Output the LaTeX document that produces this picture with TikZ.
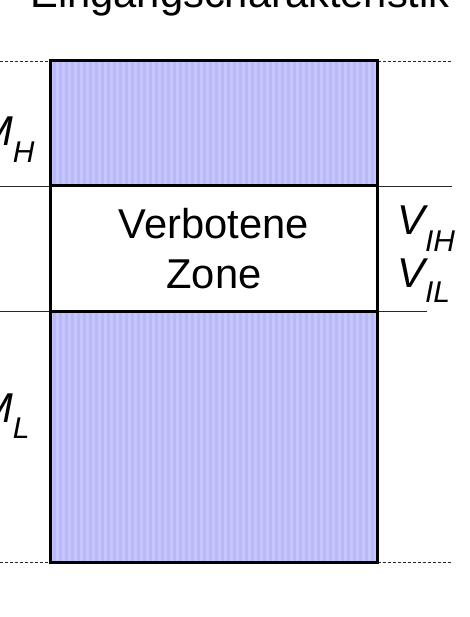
\documentclass[tikz,border=0pt]{standalone}
\usepackage{fontspec}
\setmainfont{Liberation Sans}
\usetikzlibrary{positioning}
\definecolor{zonefill}{RGB}{198,198,255}
\definecolor{zonestripe}{RGB}{184,184,250}
\definecolor{rulegray}{RGB}{40,40,40}

\newcommand{\lbl}[3]{\itshape #1\raisebox{-#3pt}{\fontsize{30}{30}\selectfont #2}}

\begin{document}
\begin{tikzpicture}[
  x=1pt, y=-1pt,
  font=\fontsize{41.7}{50}\selectfont,
  zone/.style={rectangle, fill=zonefill, inner sep=0pt, outer sep=0pt,
    minimum width=327pt},
  forbidden/.style={rectangle, fill=white, inner sep=0pt, outer sep=0pt,
    minimum width=327pt, minimum height=125pt, align=center},
  frame/.style={line width=3pt, black},
  level/.style={line width=0.8pt, rulegray},
  limit/.style={level, dash pattern=on 3pt off 2pt},
  volt/.style={anchor=base west, inner sep=0pt},
]
\useasboundingbox (0,0) rectangle (470,617);
\clip (0,0) rectangle (470,617);

% title, cut by the top edge
\node[volt] (title) at (30,8) {Eingangscharakteristik};

% the three zones of the input level
\node[zone, minimum height=125pt, anchor=north west] (high) at (50.5,61) {};
\node[forbidden, below=0pt of high] (mid) {Verbotene\\Zone};
\node[zone, minimum height=251pt, below=0pt of mid] (low) {};

% stripes in the valid zones
\foreach \z in {high, low}
  \foreach \s in {2,8,...,320}
    \fill[zonestripe] ([xshift=\s pt]\z.north west) rectangle ([xshift=\s pt+3pt]\z.south west);

% level lines left and right
\coordinate (lt) at (0,61);   \coordinate (rt) at (452,61);
\coordinate (lh) at (0,186);  \coordinate (rh) at (452,186);
\coordinate (ll) at (0,311);  \coordinate (rl) at (427,311);
\coordinate (lb) at (0,562);  \coordinate (rb) at (452,562);
\draw[limit] (lt) -- (high.north west);
\draw[limit] (high.north east) -- (rt);
\draw[level] (lh) -- (high.south west);
\draw[level] (high.south east) -- (rh);
\draw[level] (ll) -- (low.north west);
\draw[level] (low.north east) -- (rl);
\draw[limit] (lb) -- (low.south west);
\draw[limit] (low.south east) -- (rb);

% outline
\draw[frame] (high.north west) rectangle (low.south east);
\draw[frame] (mid.north west) -- (mid.north east);
\draw[frame] (mid.south west) -- (mid.south east);

% labels
\node[volt] (mh) at (-22,146) {\lbl{M}{H}{17}};
\node[volt] (ml) at (-22,422) {\lbl{M}{L}{16}};
\node[volt] (vih) at (397,235) {\lbl{V}{IH}{17}};
\node[volt] (vil) at (397,287) {\lbl{V}{IL}{15}};
\end{tikzpicture}
\end{document}
